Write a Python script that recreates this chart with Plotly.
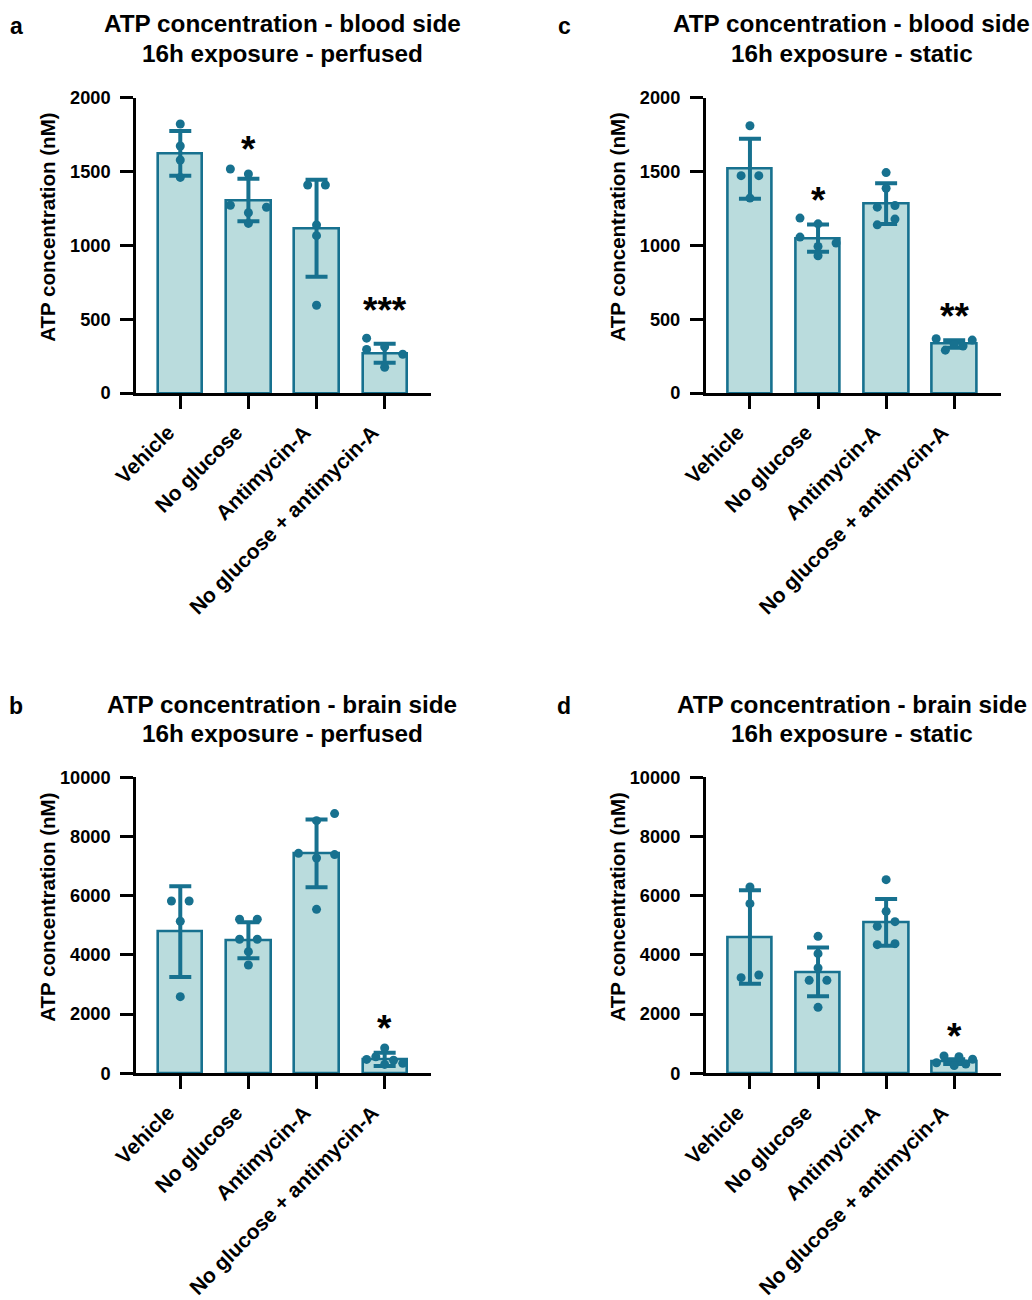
import plotly.graph_objects as go

categories = ["Vehicle", "No glucose", "Antimycin-A", "No glucose + antimycin-A"]

# ---- panel a: blood side, perfused ----
a_mean = [1622, 1306, 1115, 269]
a_sd = [152, 144, 329, 64]
a_pts = [[1821, 1672, 1577, 1459],
         [1516, 1482, 1271, 1257, 1220, 1148],
         [1408, 1408, 1137, 1065, 594],
         [371, 295, 313, 262, 174]]

# ---- panel c: blood side, static ----
c_mean = [1517, 1048, 1281, 332]
c_sd = [203, 92, 138, 25]
c_pts = [[1809, 1471, 1471, 1319],
         [1184, 1145, 1055, 1015, 992, 929],
         [1492, 1386, 1258, 1269, 1177, 1138],
         [367, 358, 290, 328, 318]]

# ---- panel b: brain side, perfused ----
b_mean = [4785, 4493, 7432, 472]
b_sd = [1532, 609, 1144, 225]
b_pts = [[5822, 5822, 5135, 2589],
         [5203, 5203, 4527, 4527, 4110, 3659],
         [8773, 8536, 7432, 7388, 7275, 5540],
         [855, 559, 470, 440, 337, 301]]

# ---- panel d: brain side, static ----
d_mean = [4605, 3423, 5100, 395]
d_sd = [1578, 823, 788, 80]
d_pts = [[6294, 5730, 3230, 3321],
         [4627, 4041, 3556, 3140, 3140, 2228],
         [6541, 5471, 5123, 4964, 4345, 4379],
         [358, 584, 561, 314, 473, 260]]

# significance marks: (category index, label, value at glyph centre)
a_sig = [(1, "*", 1685), (3, "***", 591)]
c_sig = [(1, "*", 1340), (3, "**", 553)]
b_sig = [(3, "*", 1666)]
d_sig = [(3, "*", 1429)]

titles = {
    "a": ["ATP concentration - blood side", "16h exposure - perfused"],
    "c": ["ATP concentration - blood side", "16h exposure - static"],
    "b": ["ATP concentration - brain side", "16h exposure - perfused"],
    "d": ["ATP concentration - brain side", "16h exposure - static"],
}
y_title = "ATP concentration (nM)"

# ---- horizontal jitter of the dots (category units) ----
a_off = [[0, 0, 0, 0], [-0.265, 0, -0.265, 0.265, 0, 0], [-0.13, 0.13, 0, 0, 0], [-0.265, -0.265, 0, 0.265, 0]]
c_off = [[0, -0.13, 0.13, 0], [-0.265, 0, -0.265, 0.265, 0, 0], [0, 0, -0.13, 0.13, 0.13, -0.13], [-0.265, 0.265, -0.13, 0, 0.13]]
b_off = [[-0.13, 0.13, 0, 0], [-0.13, 0.13, -0.13, 0.13, 0, 0], [0.265, 0, -0.265, 0.265, 0, 0], [0, -0.13, -0.265, 0.13, 0.265, 0]]
d_off = [[0, 0, -0.13, 0.13], [0, 0, 0, -0.13, 0.13, 0], [0, 0, 0.13, -0.13, -0.13, 0.13], [-0.26, -0.15, 0.07, 0.17, 0.27, 0]]

DARK = "#17718f"
FILL = "#badcdd"
FONT = "Liberation Sans, Arial, sans-serif"
W, H = 1032, 1300


def px(x):
    return x / W


def py(y):
    return 1 - y / H


panels = [
    # key, mean, sd, pts, off, sig, axis suffix, x px range, y px (top, bottom), ymax, dtick
    ("a", a_mean, a_sd, a_pts, a_off, a_sig, "", (136, 431), (97.5, 393), 2000, 500),
    ("c", c_mean, c_sd, c_pts, c_off, c_sig, "2", (705.7, 1000.5), (97.5, 393), 2000, 500),
    ("b", b_mean, b_sd, b_pts, b_off, b_sig, "3", (136, 431), (777.3, 1073.3), 10000, 2000),
    ("d", d_mean, d_sd, d_pts, d_off, d_sig, "4", (705.7, 1000.5), (777.3, 1073.3), 10000, 2000),
]

fig = go.Figure()
annotations = []
layout = {}

for key, mean, sd, pts, off, sig, sfx, xpx, ypx, ymax, dtick in panels:
    xa = "x" + sfx
    ya = "y" + sfx
    fig.add_trace(go.Bar(
        x=list(range(len(categories))), y=mean, width=0.65,
        marker=dict(color=FILL, line=dict(color=DARK, width=2.6)),
        error_y=dict(type="data", array=sd, symmetric=True, color=DARK, thickness=4, width=11),
        xaxis=xa, yaxis=ya, showlegend=False, hoverinfo="skip",
    ))
    xs, ys = [], []
    for i, (grp, og) in enumerate(zip(pts, off)):
        for v, o in zip(grp, og):
            xs.append(i + o)
            ys.append(v)
    fig.add_trace(go.Scatter(
        x=xs, y=ys, mode="markers",
        marker=dict(color=DARK, size=9, line=dict(width=0)),
        xaxis=xa, yaxis=ya, showlegend=False, hoverinfo="skip",
    ))

    axis_common = dict(
        showline=True, linecolor="black", linewidth=2.6, mirror=False,
        ticks="outside", ticklen=13, tickwidth=2.6, tickcolor="black",
        showgrid=False, zeroline=False, automargin=False,
    )
    layout["xaxis" + sfx] = dict(
        domain=[px(xpx[0]), px(xpx[1])], anchor=ya,
        range=[-0.65, 3.68], tickmode="array",
        tickvals=list(range(len(categories))), ticktext=categories,
        tickangle=-45, ticklabelshift=-12, ticklabelstandoff=3,
        tickfont=dict(family=FONT, size=21, color="black", weight="bold"),
        **axis_common,
    )
    layout["yaxis" + sfx] = dict(
        domain=[py(ypx[1]), py(ypx[0])], anchor=xa,
        range=[0, ymax], tickmode="linear", tick0=0, dtick=dtick,
        tickformat="d", ticklabelstandoff=6,
        tickfont=dict(family=FONT, size=18.2, color="black", weight="bold"),
        **axis_common,
    )

    # significance stars
    for idx, lab, yv in sig:
        annotations.append(dict(
            x=idx, y=yv, xref=xa, yref=ya, text=lab, showarrow=False,
            xanchor="center", yanchor="middle", yshift=-5,
            font=dict(family=FONT, size=37, color="black", weight="bold"),
        ))

    # panel title (two lines)
    cx = (xpx[0] + xpx[1]) / 2 - 1.5
    ty1 = 24 if ypx[0] < 500 else 704
    for k, line in enumerate(titles[key]):
        annotations.append(dict(
            x=px(cx), y=py(ty1 + 29 * k), xref="paper", yref="paper",
            text=line, showarrow=False, xanchor="center", yanchor="middle",
            font=dict(family=FONT, size=24.3, color="black", weight="bold"),
        ))
    # panel letter
    lx = 16 if xpx[0] < 500 else 564
    ly = 26 if ypx[0] < 500 else 706
    annotations.append(dict(
        x=px(lx), y=py(ly), xref="paper", yref="paper",
        text=key, showarrow=False, xanchor="center", yanchor="middle",
        font=dict(family=FONT, size=23, color="black", weight="bold"),
    ))
    # y axis title
    yx = xpx[0] - 88.5
    yy = (ypx[0] + ypx[1]) / 2 - 18
    annotations.append(dict(
        x=px(yx), y=py(yy), xref="paper", yref="paper",
        text=y_title, showarrow=False, textangle=-90,
        xanchor="center", yanchor="middle",
        font=dict(family=FONT, size=20.5, color="black", weight="bold"),
    ))

fig.update_layout(
    width=W, height=H,
    margin=dict(l=0, r=0, t=0, b=0, autoexpand=False),
    paper_bgcolor="white", plot_bgcolor="white",
    showlegend=False, bargap=0,
    annotations=annotations,
    **layout,
)

fig.write_html(
    "out.html",
    config={"displayModeBar": False},
    post_script="document.body.style.margin='0';document.body.style.padding='0';"
                "document.body.style.overflow='hidden';",
)
